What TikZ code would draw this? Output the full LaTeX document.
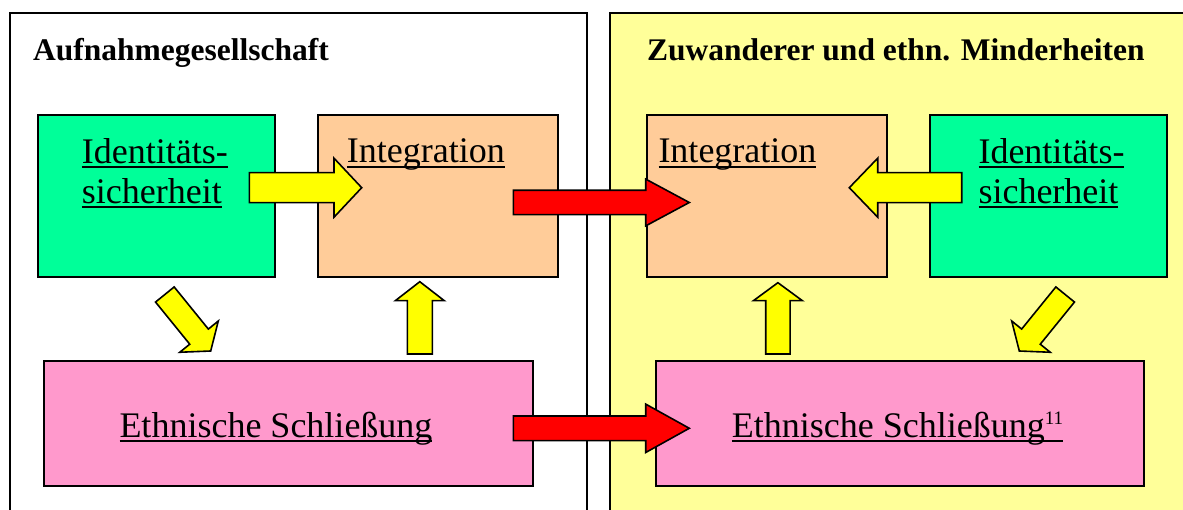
\documentclass[tikz,border=0pt]{standalone}
\usepackage{fontspec}
\setmainfont{Liberation Serif}
\usetikzlibrary{calc}

\definecolor{boxgreen}{HTML}{00FF99}
\definecolor{boxorange}{HTML}{FFCC99}
\definecolor{boxpink}{HTML}{FF99CC}
\definecolor{panelyellow}{HTML}{FFFF99}
\definecolor{arrowyellow}{HTML}{FFFF00}
\definecolor{arrowred}{HTML}{FF0000}

% underline at a fixed depth below the baseline (descenders cross it)
\newcommand\ulword[1]{\leavevmode\setbox0\hbox{#1}\rlap{\rule[-5pt]{\wd0}{2pt}}\box0}

% block arrow: style, tail, tip, half shaft width, half head width, head length
\newcommand\blockarrow[6]{%
  \coordinate (hb) at ($(#3)!#6!(#2)$);
  \draw[#1] ($(#2)!#4!90:(#3)$) -- ($(hb)!#4!90:(#3)$) -- ($(hb)!#5!90:(#3)$)
    -- (#3) -- ($(hb)!#5!-90:(#3)$) -- ($(hb)!#4!-90:(#3)$)
    -- ($(#2)!#4!-90:(#3)$) -- cycle;}

\tikzset{
  panel/.style={draw=black, line width=1.8pt, inner sep=0pt, anchor=north west},
  box/.style={draw=black, line width=1.8pt, inner sep=0pt, anchor=north west},
  lbl/.style={inner sep=0pt, anchor=base west, font=\fontsize{36}{40}\selectfont},
  ttl/.style={inner sep=0pt, anchor=base west, font=\bfseries\fontsize{31.5}{36}\selectfont},
  yarrow/.style={draw=black, fill=arrowyellow, line width=1.6pt, line join=miter},
  rarrow/.style={draw=black, fill=arrowred, line width=1.6pt, line join=miter}
}

\begin{document}
\begin{tikzpicture}[x=1pt, y=-1pt]
\useasboundingbox (0,0) rectangle (1183,510);
\clip (0,0) rectangle (1183,510);

% two panels
\node[panel, fill=white, minimum width=577pt, minimum height=520pt] (panL) at (9,12) {};
\node[panel, fill=panelyellow, minimum width=600pt, minimum height=520pt] (panR) at (609.3,12) {};

\node[ttl] (ttlL) at (33,61) {Aufnahmegesellschaft};
\node[ttl] (ttlR) at (647,61) {Zuwanderer und ethn. Minderheiten};

% boxes
\node[box, fill=boxgreen,  minimum width=237pt, minimum height=162.5pt] (idL)  at (37,114) {};
\node[box, fill=boxorange, minimum width=240pt, minimum height=162.5pt] (intL) at (317,114) {};
\node[box, fill=boxorange, minimum width=240pt, minimum height=162.5pt] (intR) at (645.7,114) {};
\node[box, fill=boxgreen,  minimum width=237pt, minimum height=162.5pt] (idR)  at (929,114) {};
\node[box, fill=boxpink,   minimum width=489pt, minimum height=125pt]   (esL)  at (43,360) {};
\node[box, fill=boxpink,   minimum width=488pt, minimum height=125pt]   (esR)  at (655,360) {};

% labels
\node[lbl] (idLa) at (81.7,163.3) {\ulword{Identitäts-}};
\node[lbl] (idLb) at (81.7,203.3) {\ulword{sicherheit}};
\node[lbl] (intLt) at (346.7,162.7) {\ulword{Integration}};
\node[lbl] (intRt) at (658.3,163) {\ulword{Integration}};
\node[lbl] (idRa) at (978.3,163.3) {\ulword{Identitäts-}};
\node[lbl] (idRb) at (978.3,203.3) {\ulword{sicherheit}};
\node[lbl] (esLt) at (119.3,437.3) {\ulword{Ethnische Schließung}};
\node[lbl] (esRt) at (731.7,437.3) {\ulword{Ethnische Schließung\raisebox{13pt}{\fontsize{19}{19}\selectfont 11}}};

% arrow ends
\coordinate (a1s) at (249.3,187.7);  \coordinate (a1e) at (361.7,187.7);
\coordinate (a2s) at (961.7,187.7);  \coordinate (a2e) at (849.3,187.7);
\coordinate (a3s) at (419.8,354);    \coordinate (a3e) at (419.8,281.7);
\coordinate (a4s) at (777.9,354);    \coordinate (a4e) at (777.9,282.7);
\coordinate (a5s) at (164.85,294.5); \coordinate (a5e) at (210.7,351);
\coordinate (a6s) at (1065.15,294.5);\coordinate (a6e) at (1019.3,351);
\coordinate (r1s) at (513.3,202.5);  \coordinate (r1e) at (689.3,202.5);
\coordinate (r2s) at (513.3,428.3);  \coordinate (r2e) at (689.3,428.3);

% yellow arrows inside the panels
\blockarrow{yarrow}{a1s}{a1e}{15pt}{29.5pt}{27.7pt}
\blockarrow{yarrow}{a2s}{a2e}{15pt}{29.5pt}{28.4pt}
\blockarrow{yarrow}{a3s}{a3e}{12.5pt}{24.5pt}{19pt}
\blockarrow{yarrow}{a4s}{a4e}{12.2pt}{24.5pt}{18pt}
\blockarrow{yarrow}{a5s}{a5e}{12pt}{24.8pt}{18.5pt}
\blockarrow{yarrow}{a6s}{a6e}{12pt}{24.8pt}{18.5pt}

% red arrows crossing between the panels
\blockarrow{rarrow}{r1s}{r1e}{12.2pt}{23.4pt}{43.6pt}
\blockarrow{rarrow}{r2s}{r2e}{12.3pt}{24.2pt}{43.6pt}
\end{tikzpicture}
\end{document}
